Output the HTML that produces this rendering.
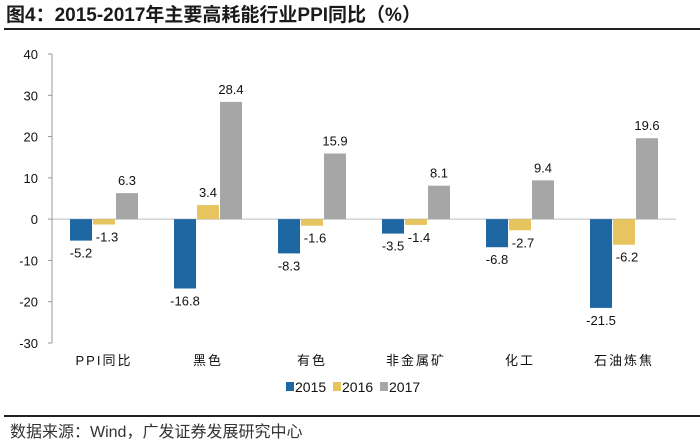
<!DOCTYPE html>
<html><head><meta charset="utf-8"><style>
body{margin:0;background:#fff;width:700px;height:442px;overflow:hidden;font-family:"Liberation Sans","Noto Sans CJK SC",sans-serif}
</style></head><body>
<svg width="700" height="442" xmlns="http://www.w3.org/2000/svg">
<text x="6" y="21" font-size="19" font-weight="bold" fill="#1a1a1a" font-family="Liberation Sans,Noto Sans CJK SC,sans-serif">图4：2015-2017年主要高耗能行业PPI同比（%）</text>
<rect x="4" y="28" width="696" height="2" fill="#222"/>
<g id="plot"></g>
<rect x="4" y="415" width="696" height="2" fill="#222"/>
<text x="10" y="437" font-size="16" fill="#333" font-family="Liberation Sans,Noto Sans CJK SC,sans-serif">数据来源：Wind，广发证券发展研究中心</text>
</svg>
<script>
const categories=["PPI同比","黑色","有色","非金属矿","化工","石油炼焦"];
const s2015=[-5.2,-16.8,-8.3,-3.5,-6.8,-21.5];
const s2016=[-1.3,3.4,-1.6,-1.4,-2.7,-6.2];
const s2017=[6.3,28.4,15.9,8.1,9.4,19.6];
const seriesNames=["2015","2016","2017"];
const yTicks=[40,30,20,10,0,-10,-20,-30];
const colors=["#1f67a3","#e6c45e","#a6a6a6"];
const NS="http://www.w3.org/2000/svg";
const g=document.getElementById('plot');
const x0=52,x1=676,yTop=54,yBot=343,yMax=40,yMin=-30;
const y=v=>yTop+(yMax-v)*(yBot-yTop)/(yMax-yMin);
const gw=(x1-x0)/categories.length;
const cx=i=>x0+gw*(i+0.5);
function mk(t,a){const e=document.createElementNS(NS,t);for(const k in a)e.setAttribute(k,a[k]);g.appendChild(e);return e;}
let ax=mk('line',{x1:x0,y1:yTop,x2:x0,y2:yBot,stroke:'#999'});


yTicks.forEach(v=>{
 let t=mk('line',{x1:x0-4,y1:y(v),x2:x0,y2:y(v),stroke:'#999'});
 
 
 let l=mk('text',{x:x0-14,y:y(v)+5,'font-size':13,'text-anchor':'end',fill:'#111'});
 l.textContent=v;
 
 
});
let zl=mk('line',{x1:x0,y1:y(0),x2:x1,y2:y(0),stroke:'#bbb'});


const all=[s2015,s2016,s2017];const bw=22;
categories.forEach((c,i)=>{
 all.forEach((s,k)=>{
  const v=s[i];const bx=cx(i)-34+k*23;
  const top=Math.min(y(v),y(0)),h=Math.abs(y(v)-y(0));
  let r=mk('rect',{x:bx,y:top,width:bw,height:h,fill:colors[k]});
  
  
  let t=mk('text',{x:bx+bw/2+(v<0&&k==1?3:0),y:v>=0?y(v)-8:y(v)+17,'font-size':13,'text-anchor':'middle',fill:'#111'});
  t.textContent=v.toFixed(1);
  
  
 });
 let cl=mk('text',{x:cx(i),y:365,'font-size':13,'text-anchor':'middle','letter-spacing':2,fill:'#111'});
 cl.textContent=c;
 
 
});
seriesNames.forEach((n,k)=>{
 const lx=286+k*47;
 let r=mk('rect',{x:lx,y:382,width:8,height:9,fill:colors[k]});
 
 
 let t=mk('text',{x:lx+9,y:392,'font-size':14,fill:'#111'});
 t.textContent=n;
 
 
});
</script>
</body></html>
